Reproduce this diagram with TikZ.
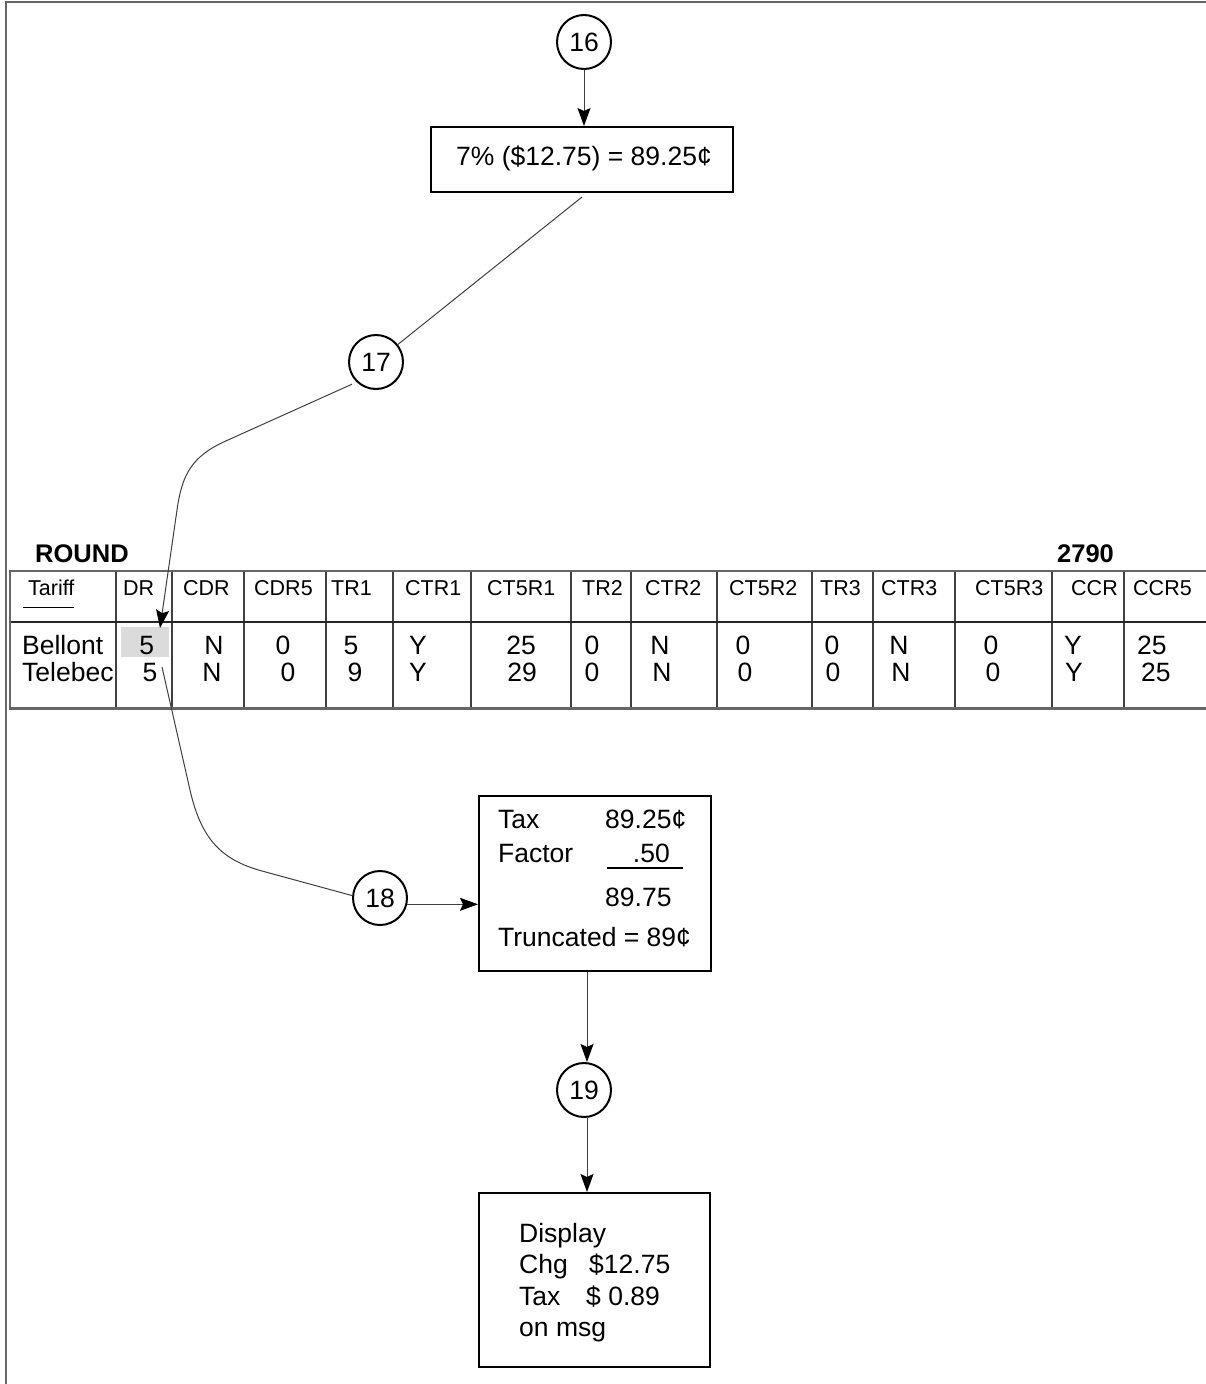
\documentclass[tikz,border=0pt]{standalone}
\usepackage{fontspec}
\setmainfont{Liberation Sans}
\usetikzlibrary{arrows.meta}
\tikzset{
 txt/.style={inner sep=0pt, anchor=base west, font=\fontsize{26.5}{30}\selectfont},
 ctxt/.style={inner sep=0pt, anchor=base, font=\fontsize{26.5}{30}\selectfont},
 hdr/.style={inner sep=0pt, anchor=base west, font=\fontsize{21.5}{24}\selectfont},
 ttl/.style={inner sep=0pt, anchor=base west, font=\fontsize{25.5}{28}\selectfont\bfseries},
 box/.style={draw, line width=2pt, inner sep=0pt},
 circ/.style={circle, draw, line width=2pt, minimum size=54pt, inner sep=0pt, font=\fontsize{26.5}{30}\selectfont},
 conn/.style={draw=black!75, line width=1pt},
 arr/.style={conn, -{Stealth[length=18pt,width=13pt,inset=3pt,color=black]}},
 framel/.style={draw=black!60, line width=2.5pt},
 coll/.style={draw=black!75, line width=1.3pt},
}
\begin{document}
\begin{tikzpicture}[x=1pt,y=-1pt]
\useasboundingbox (0,0) rectangle (1206,1384);
% page frame
\draw[framel] (6,1384) -- (6,2) -- (1206,2);

% top part
\node[circ] (c16) at (584,42) {16};
\node[box, minimum width=302pt, minimum height=65pt] (b1) at (582,159.5) {};
\node[txt, anchor=base] (t1) at (584,165) {7\% (\$12.75) = 89.25¢};
\draw[arr] (c16.south) -- (c16.south |- b1.north);
\node[circ] (c17) at (376,362) {17};
\draw[conn] ([yshift=-4pt]b1.south) -- (c17);

% table
\node[ttl] (round) at (35,562) {ROUND};
\node[ttl] (num) at (1057,562) {2790};
\fill[black!14] (121,627) rectangle (169,657);
\foreach \x in {116,172,244,326,393,471,571,631,717,812,873,955,1052,1124}
  \draw[coll] (\x,571) -- (\x,708);
\draw[draw=black!85, line width=1.3pt] (10,622) -- (1206,622);
\draw[framel] (1206,571) -- (10,571) -- (10,708.5) -- (1206,708.5);
\foreach \x/\t [count=\i] in {28/Tariff,123/DR,183/CDR,254/CDR5,331/TR1,405/CTR1,487/CT5R1,582/TR2,645/CTR2,729/CT5R2,820/TR3,881/CTR3,975/CT5R3,1071/CCR,1133/CCR5}
  \node[hdr] (h\i) at (\x,595) {\t};
\draw[line width=1pt] (23,607) -- (74,607);
\node[txt] (bell) at (22,654) {Bellont};
\node[txt] (tele) at (22,681) {Telebec};
\foreach \x/\t [count=\i] in {146.7/5,214/N,283/0,351/5,418/Y,521/25,592/0,660/N,743/0,832/0,899/N,991/0,1073/Y}
  \node[ctxt] (ra\i) at (\x,654) {\t};
\node[txt] (ra14) at (1137,654) {25};
\foreach \x/\t [count=\i] in {150/5,212/N,288/0,355/9,418/Y,522/29,592/0,662/N,745/0,833/0,901/N,993/0,1074/Y}
  \node[ctxt] (rb\i) at (\x,681) {\t};
\node[txt] (rb14) at (1141,681) {25};

\coordinate (tipA) at (160,628);
\draw[arr, shorten <=5pt] (c17.226) -- (228,440) .. controls (191,456) and (182,475) .. (177,510) -- (tipA);

% middle part
\node[circ] (c18) at (380,898) {18};
\coordinate (startB) at (162,667);
\draw[conn] (startB) -- (190,790) .. controls (201.4,840) and (222,860) .. (262,871) -- (c18.175);
\node[box, minimum width=232pt, minimum height=175pt] (b2) at (595,883.5) {};
\draw[arr] (c18.-13) -- (c18.-13 -| b2.west);
\node[txt] (tax) at (498,828) {Tax};
\node[txt] (taxv) at (605,828) {89.25¢};
\node[txt] (fac) at (498,862) {Factor};
\node[txt, anchor=base east] (facv) at (670,862) {.50};
\draw[line width=2pt] (607,868) -- (683,868);
\node[txt] (sum) at (605,906) {89.75};
\node[txt] (trunc) at (498,946) {Truncated = 89¢};

% bottom part
\coordinate (xa) at (587,0);
\node[circ] (c19) at (584,1090) {19};
\draw[arr] (b2.south -| xa) -- (c19.north -| xa);
\node[box, minimum width=231pt, minimum height=174pt] (b3) at (594.5,1280) {};
\draw[arr] (c19.south -| xa) -- (b3.north -| xa);
\node[txt] (d1) at (519,1242) {Display};
\node[txt] (d2) at (519,1273) {Chg};
\node[txt] (d2v) at (589,1273) {\$12.75};
\node[txt] (d3) at (519,1305) {Tax};
\node[txt] (d3v) at (586,1305) {\$ 0.89};
\node[txt] (d4) at (519,1336) {on msg};
\end{tikzpicture}
\end{document}
